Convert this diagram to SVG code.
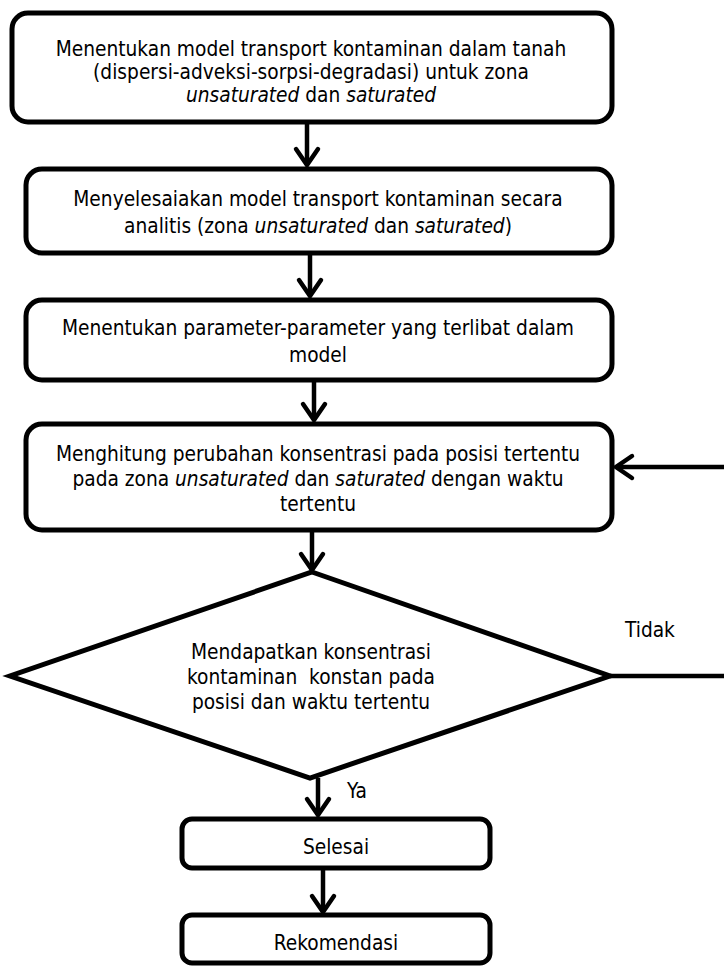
<svg xmlns="http://www.w3.org/2000/svg" width="724" height="967" viewBox="0 0 724 967">
<style>
.box{fill:#fff;stroke:#000;stroke-width:5}
.con{fill:none;stroke:#000;stroke-width:4.5}
text{font-family:"DejaVu Sans Condensed","DejaVu Sans",sans-serif;font-size:20.7px;fill:#000}
.c{text-anchor:middle}
.i{font-style:italic}
</style>
<defs>
<marker id="ah" markerUnits="userSpaceOnUse" markerWidth="30" markerHeight="30" refX="0" refY="0" viewBox="-20 -15 30 30" orient="auto" overflow="visible">
<path d="M-16,-11 L0,0 L-16,11" fill="none" stroke="#000" stroke-width="4.5" stroke-linecap="round" stroke-linejoin="miter"/>
</marker>
</defs>
<rect width="724" height="967" fill="#fff"/>
<g id="connectors">
<line class="con" x1="307" y1="122" x2="307" y2="165" marker-end="url(#ah)"/>
<line class="con" x1="310" y1="253" x2="310" y2="296" marker-end="url(#ah)"/>
<line class="con" x1="314" y1="380" x2="314" y2="420" marker-end="url(#ah)"/>
<line class="con" x1="312" y1="530" x2="312" y2="570" marker-end="url(#ah)"/>
<line class="con" x1="318" y1="778" x2="318" y2="815" marker-end="url(#ah)"/>
<line class="con" x1="323" y1="868" x2="323" y2="912" marker-end="url(#ah)"/>
<polyline class="con" points="610,676 730,676 730,467 616,467" marker-end="url(#ah)"/>
<text x="625" y="637">Tidak</text>
<text x="347" y="798">Ya</text>
</g>
<g id="n1">
<rect class="box" x="12" y="13" width="600" height="109" rx="16"/>
<text class="c" x="311" y="56">Menentukan model transport kontaminan dalam tanah</text>
<text class="c" x="311" y="79">(dispersi-adveksi-sorpsi-degradasi) untuk zona</text>
<text class="c" x="311" y="102"><tspan class="i">unsaturated</tspan> dan <tspan class="i">saturated</tspan></text>
</g>
<g id="n2">
<rect class="box" x="26" y="169" width="586" height="84" rx="16"/>
<text class="c" x="318" y="206">Menyelesaiakan model transport kontaminan secara</text>
<text class="c" x="318" y="233">analitis (zona <tspan class="i">unsaturated</tspan> dan <tspan class="i">saturated</tspan>)</text>
</g>
<g id="n3">
<rect class="box" x="26" y="300" width="586" height="80" rx="16"/>
<text class="c" x="318" y="335">Menentukan parameter-parameter yang terlibat dalam</text>
<text class="c" x="318" y="362">model</text>
</g>
<g id="n4">
<rect class="box" x="26" y="424" width="586" height="106" rx="16"/>
<text class="c" x="318" y="461">Menghitung perubahan konsentrasi pada posisi tertentu</text>
<text class="c" x="318" y="486">pada zona <tspan class="i">unsaturated</tspan> dan <tspan class="i">saturated</tspan> dengan waktu</text>
<text class="c" x="318" y="511">tertentu</text>
</g>
<g id="n5">
<polygon class="box" points="312,572 610,676 310,778 10,676"/>
<text class="c" x="311" y="659">Mendapatkan konsentrasi</text>
<text class="c" x="311" y="684" xml:space="preserve">kontaminan  konstan pada</text>
<text class="c" x="311" y="709">posisi dan waktu tertentu</text>
</g>
<g id="n6">
<rect class="box" x="182" y="819" width="308" height="49" rx="10"/>
<text class="c" x="336" y="854">Selesai</text>
</g>
<g id="n7">
<rect class="box" x="182" y="915" width="308" height="48" rx="10"/>
<text class="c" x="336" y="950">Rekomendasi</text>
</g>
</svg>
